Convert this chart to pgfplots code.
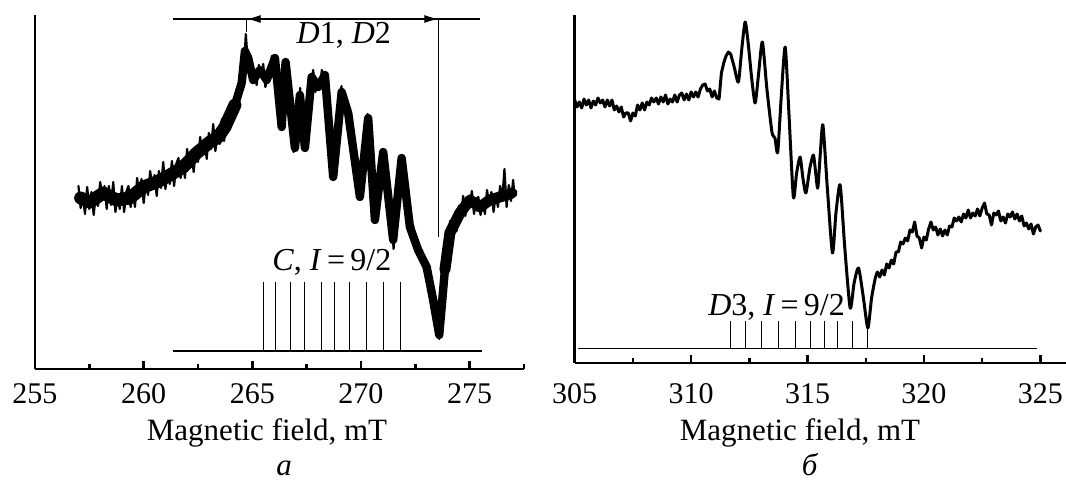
\documentclass[border=0pt]{standalone}
\usepackage{fontspec}
\setmainfont{Liberation Serif}
\usepackage{pgfplots}
\pgfplotsset{compat=1.18}
\usetikzlibrary{arrows.meta}

\pgfplotsset{epr/.style={
    scale only axis,
    axis x line=bottom, axis y line=left,
    axis line style={line width=1.3pt,-},
    ytick=\empty,
    xtick align=inside,
    major tick length=4pt, minor tick length=2.5pt,
    tick style={black,line width=1.2pt},
    xticklabel style={font=\fontsize{15}{17}\selectfont, anchor=base},
    /pgf/number format/assume math mode=true,
    /pgf/number format/1000 sep={},
    clip=false,
  },
  spec/.style={black, line width=1.1pt, line join=round, line cap=round, no markers},
}
\tikzset{stick/.style={black, line width=0.5pt}}

\begin{document}
\begin{tikzpicture}[x=1pt,y=1pt,font=\fontsize{16}{19}\selectfont]
\useasboundingbox (0,0) rectangle (533,240.5);

% ---- panel a ----
\begin{axis}[epr, at={(17.5pt,56pt)}, anchor=south west,
    width=244.5pt, height=177pt,
    xmin=255, xmax=277.5, ymin=0, ymax=354,
    xtick={255,260,...,275}, minor xtick={257.5,262.5,...,277.5},
    xticklabel style={yshift=-17.5pt}]
  % mean trace of the noisy band
  \addplot[spec, line width=6.5pt] coordinates {
    (257.10,171) (257.53,167) (258.14,176) (258.76,169) (259.37,171) (259.98,182) (260.60,187) (261.21,194)
    (261.82,202) (262.44,216) (263.05,227) (263.43,232) (263.74,242) (264.20,264)
  };
  \addplot[spec, line width=4.2pt] coordinates {
    (264.20,264) (264.51,286) (264.66,318)
    (264.81,311) (265.04,289) (265.35,299) (265.66,289) (266.04,311) (266.35,242) (266.53,307) (266.96,221)
    (267.19,274) (267.42,221) (267.73,292) (268.03,282) (268.34,294) (268.72,192) (269.11,277) (269.41,256)
    (269.95,172) (270.33,251) (270.64,149) (271.02,217) (271.48,129) (271.87,211) (272.25,142) (272.63,119)
    (273.02,102) (273.32,69) (273.60,34) (273.86,99)
  };
  \addplot[spec, line width=5.5pt] coordinates {
    (273.86,99) (274.09,136) (274.55,156) (275.01,169) (275.47,162)
    (275.93,169) (276.39,172) (276.95,176)
  };
  % noise
  \addplot[spec] coordinates {
    (257.0,183) (257.1,161) (257.2,174) (257.3,155) (257.4,182) (257.5,160) (257.6,177) (257.7,154) (257.8,175) (257.9,163)
    (258.0,187) (258.1,171) (258.2,183) (258.3,160) (258.4,183) (258.5,164) (258.6,187) (258.7,157) (258.8,172) (258.9,160)
    (259.0,183) (259.1,157) (259.2,177) (259.3,183) (259.4,162) (259.5,178) (259.6,162) (259.7,191) (259.8,172) (259.9,190)
    (260.0,166) (260.1,187) (260.2,174) (260.3,198) (260.4,181) (260.5,194) (260.6,173) (260.7,198) (260.8,181) (260.9,207)
    (261.0,180) (261.1,196) (261.2,185) (261.3,208) (261.4,183) (261.5,205) (261.6,211) (261.7,191) (261.8,207) (261.9,191)
    (262.0,220) (262.1,202) (262.2,219) (262.3,197) (262.4,219) (262.5,207) (262.6,232) (262.7,216) (262.8,230) (262.9,210)
    (263.0,236) (263.1,220) (263.2,245) (263.3,218) (263.4,235) (263.5,225) (263.6,250) (263.7,228) (263.8,252) (263.9,262)
    (264.0,249) (264.1,264) (264.2,255) (264.3,281) (264.4,273) (264.5,292) (264.6,294) (264.7,335) (264.8,305) (264.9,309)
    (265.0,288) (265.1,296) (265.2,284) (265.3,304) (265.4,292) (265.5,305) (265.6,282) (265.7,294) (265.8,292) (265.9,313)
    (266.0,301) (266.1,295) (266.2,273) (266.3,240) (266.4,264) (266.5,291) (266.6,305) (266.7,264) (266.8,251) (266.9,217)
    (267.0,233) (267.1,248) (267.2,281) (267.3,245) (267.4,229) (267.5,235) (267.6,275) (267.7,285) (267.8,299) (267.9,277)
    (268.0,285) (268.1,280) (268.2,299) (268.3,285) (268.4,280) (268.5,256) (268.6,214) (268.7,190) (268.8,203) (268.9,245)
    (269.0,252) (269.1,283) (269.2,259) (269.3,266) (269.4,249) (269.5,251) (269.6,223) (269.7,216) (269.8,185) (269.9,187)
    (270.0,177) (270.1,214) (270.2,216) (270.3,255) (270.4,224) (270.5,206) (270.6,154) (270.7,165) (270.8,186) (270.9,190)
    (271.0,218) (271.1,191) (271.2,191) (271.3,158) (271.4,149) (271.5,120) (271.6,158) (271.7,171) (271.8,209) (271.9,204)
    (272.0,194) (272.1,160) (272.2,158) (272.3,134) (272.4,144) (272.5,121) (272.6,122) (272.7,111) (272.8,119) (272.9,100)
    (273.0,107) (273.1,100) (273.2,77) (273.3,74) (273.4,51) (273.5,53) (273.6,30) (273.7,63) (273.8,76) (273.9,108)
    (274.0,113) (274.1,148) (274.2,138) (274.3,152) (274.4,138) (274.5,163) (274.6,150) (274.7,173) (274.8,153) (274.9,168)
    (275.0,161) (275.1,178) (275.2,155) (275.3,170) (275.4,172) (275.5,154) (275.6,168) (275.7,155) (275.8,179) (275.9,164)
    (276.0,177) (276.1,157) (276.2,174) (276.3,162) (276.4,183) (276.5,170) (276.6,200) (276.7,162) (276.8,184) (276.9,168)
    (277.0,189) (277.05,176)
  };
  % hyperfine stick pattern C, I = 9/2
  \draw[line width=0.6pt] (axis cs:261.36,18) -- (axis cs:275.55,18);
  \pgfplotsinvokeforeach{265.50,266.07,266.76,267.40,268.16,268.79,269.46,270.27,271.02,271.82}{
    \draw[stick] (axis cs:#1,18) -- (axis cs:#1,87);
  }
  \node[anchor=base] at (axis cs:268.66,98) {\textit{C}, \textit{I}\,=\,9/2};
  % D1, D2 span
  \draw[line width=0.6pt] (axis cs:261.33,350) -- (axis cs:275.47,350);
  \draw[line width=0.6pt,{Latex[length=7pt,width=4pt]}-{Latex[length=7pt,width=4pt]}]
    (axis cs:264.74,350) -- (axis cs:273.56,350);
  \draw[line width=0.6pt] (axis cs:264.74,350) -- (axis cs:264.74,337);
  \draw[line width=0.6pt] (axis cs:273.56,350) -- (axis cs:273.56,132);
  \node[anchor=base] at (axis cs:269.21,325) {\textit{D}1, \textit{D}2};
\end{axis}

% ---- panel b ----
\begin{axis}[epr, at={(287.35pt,59pt)}, anchor=south west,
    width=245.65pt, height=174pt,
    xmin=305, xmax=326.1, ymin=0, ymax=348,
    xtick={305,310,...,325}, minor xtick={307.5,312.5,...,322.5},
    xticklabel style={yshift=-20.5pt}]
  \addplot[spec, line width=1.5pt] coordinates {
    (305.0,263) (305.1,256) (305.2,261) (305.3,255) (305.4,264) (305.5,258) (305.6,263) (305.7,255) (305.8,262) (305.9,258)
    (306.0,265) (306.1,260) (306.2,263) (306.3,256) (306.4,263) (306.5,257) (306.6,263) (306.7,253) (306.8,257) (306.9,251)
    (307.0,256) (307.1,246) (307.2,250) (307.3,250) (307.4,242) (307.5,250) (307.6,247) (307.7,258) (307.8,253) (307.9,260)
    (308.0,253) (308.1,261) (308.2,258) (308.3,265) (308.4,261) (308.5,265) (308.6,259) (308.7,266) (308.8,261) (308.9,268)
    (309.0,259) (309.1,264) (309.2,261) (309.3,268) (309.4,261) (309.5,268) (309.6,270) (309.7,263) (309.8,269) (309.9,263)
    (310.0,271) (310.1,266) (310.2,271) (310.3,266) (310.4,274) (310.5,278) (310.6,279) (310.7,272) (310.8,274) (310.9,266)
    (311.0,272) (311.1,265) (311.2,264) (311.3,290) (311.4,300) (311.5,307) (311.6,311) (311.7,309)
  };
  \addplot[spec, line width=1.5pt, smooth, tension=0.4] coordinates {
    (311.7,309) (311.85,296) (312.03,281) (312.18,315) (312.32,341) (312.45,320) (312.6,285) (312.75,260) (312.9,290)
    (313.06,321) (313.25,275) (313.47,231) (313.6,225) (313.72,211) (313.88,270) (314.04,316) (314.2,250) (314.39,166)
    (314.53,190) (314.68,206) (314.8,185) (314.93,170) (315.1,195) (315.25,208) (315.35,190) (315.44,175) (315.55,210)
    (315.66,238) (315.85,175) (316.07,110) (316.22,150) (316.4,178) (316.6,115) (316.83,55) (317.0,80) (317.19,95)
    (317.4,65) (317.59,35) (317.75,65) (317.91,85) (318.0,91)
  };
  \addplot[spec, line width=1.5pt] coordinates {
    (318.0,91) (318.1,86) (318.2,93) (318.3,88) (318.4,99) (318.5,95) (318.6,103) (318.7,99) (318.8,111) (318.9,111)
    (319.0,121) (319.1,119) (319.2,125) (319.3,122) (319.4,133) (319.5,131) (319.6,141) (319.7,127) (319.8,125) (319.9,115)
    (320.0,126) (320.1,123) (320.2,134) (320.3,141) (320.4,133) (320.5,136) (320.6,128) (320.7,134) (320.8,127) (320.9,133)
    (321.0,128) (321.1,137) (321.2,136) (321.3,145) (321.4,142) (321.5,146) (321.6,141) (321.7,149) (321.8,145) (321.9,153)
    (322.0,145) (322.1,150) (322.2,147) (322.3,154) (322.4,147) (322.5,155) (322.6,160) (322.7,149) (322.8,148) (322.9,138)
    (323.0,150) (323.1,148) (323.2,152) (323.3,142) (323.4,146) (323.5,140) (323.6,149) (323.7,146) (323.8,151) (323.9,144)
    (324.0,149) (324.1,142) (324.2,147) (324.3,137) (324.4,140) (324.5,134) (324.6,139) (324.7,129) (324.8,136) (324.9,138)
    (325.0,132)
  };
  % hyperfine stick pattern D3, I = 9/2
  \draw[line width=0.6pt] (axis cs:305.15,14.7) -- (axis cs:324.85,14.7);
  \pgfplotsinvokeforeach{311.67,312.35,313.01,313.75,314.47,315.11,315.73,316.30,316.92,317.57}{
    \draw[stick] (axis cs:#1,14.7) -- (axis cs:#1,42);
  }
  \node[anchor=base] at (axis cs:313.67,47) {\textit{D}3, \textit{I}\,=\,9/2};
\end{axis}

\begin{scope}[every node/.style={font=\fontsize{15.5}{18}\selectfont, anchor=base}]
  \node at (133.5,20) {Magnetic field, mT};
  \node at (400,20) {Magnetic field, mT};
  \node[inner sep=0pt] at (142,2.5) {\textit{a}};
  \node[inner sep=0pt] at (405,2.5) {\textit{б}};
\end{scope}
\end{tikzpicture}
\end{document}
